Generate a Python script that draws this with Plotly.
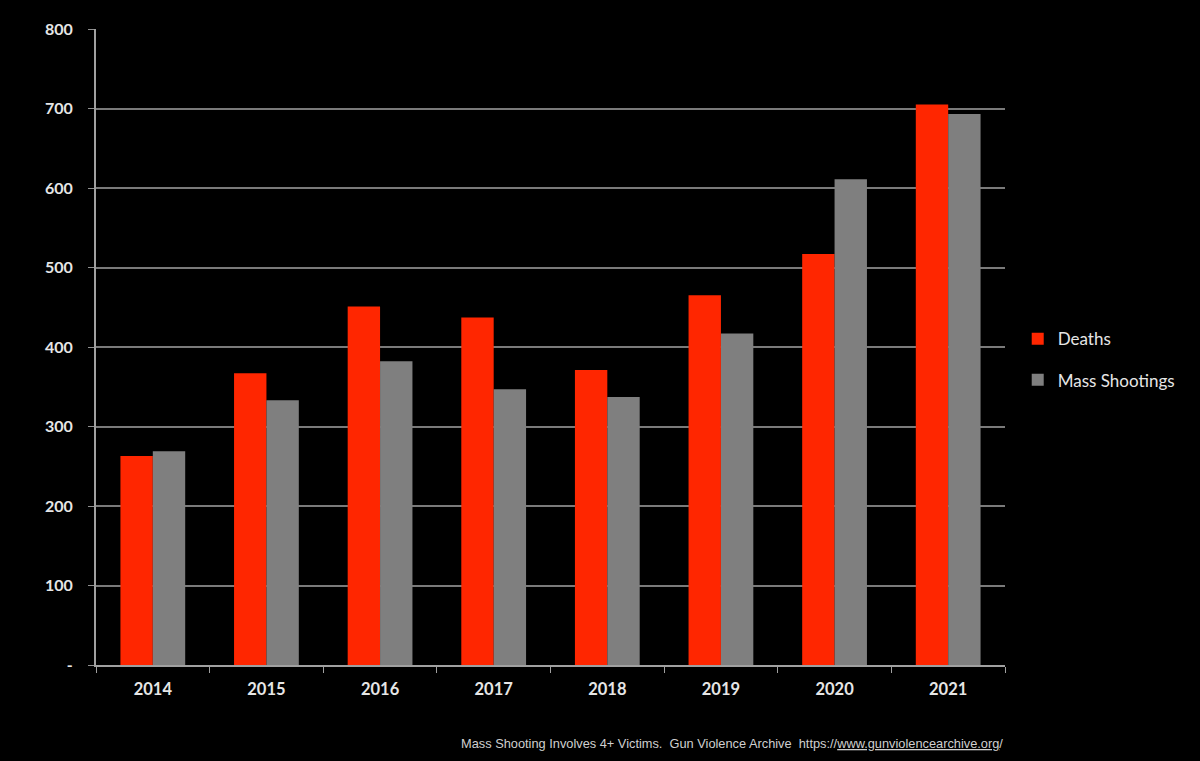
import plotly.graph_objects as go

years = ["2014", "2015", "2016", "2017", "2018", "2019", "2020", "2021"]
deaths = [263, 367, 451, 437, 371, 465, 517, 705]
mass_shootings = [269, 333, 382, 347, 337, 417, 611, 693]
y_tick_vals = [0, 100, 200, 300, 400, 500, 600, 700, 800]
y_tick_text = ["-", "100", "200", "300", "400", "500", "600", "700", "800"]

fig = go.Figure()
fig.add_trace(go.Bar(x=years, y=deaths, name="Deaths", legendgroup="d",
                     marker=dict(color="#FF2600", line=dict(width=0))))
fig.add_trace(go.Bar(x=years, y=mass_shootings, name="Mass Shootings", legendgroup="m",
                     marker=dict(color="#7F7F7F", line=dict(width=0))))

fig.update_layout(
    width=1200, height=761,
    paper_bgcolor="black", plot_bgcolor="black",
    margin=dict(l=96, r=195, t=29, b=96),
    barmode="group", bargap=0.43, bargroupgap=0,
    font=dict(family="Lato, Open Sans, sans-serif", color="#E6E6E6"),
    legend=dict(x=1.014, y=0.48, xanchor="left", yanchor="middle",
                font=dict(size=17, color="#E6E6E6"), itemwidth=30, tracegroupgap=16,
                bgcolor="rgba(0,0,0,0)"),
    showlegend=True,
    annotations=[dict(
        text="Mass Shooting Involves 4+ Victims.  Gun Violence Archive  https://<u>www.gunviolencearchive.org</u>/",
        xref="paper", yref="paper", x=1.0, y=-0.124, xanchor="right", yanchor="middle",
        showarrow=False, font=dict(family="Liberation Sans, Arial, sans-serif", size=12.8, color="#CFCFCF"))],
)
fig.update_xaxes(
    showline=True, linecolor="#A0A0A0", linewidth=2,
    ticks="outside", tickson="boundaries", ticklen=6, tickcolor="#A0A0A0",
    ticklabelstandoff=8,
    tickfont=dict(size=16.5, color="#E6E6E6", family="Lato, sans-serif", weight="bold"),
    showgrid=False,
)
fig.update_yaxes(
    range=[0, 800], tickvals=y_tick_vals, ticktext=y_tick_text,
    showline=True, linecolor="#A0A0A0", linewidth=2,
    ticks="outside", ticklen=6, tickcolor="#909090",
    ticklabelstandoff=12,
    tickfont=dict(size=16, color="#E6E6E6", family="Lato, sans-serif", weight="bold"),
    showgrid=True, gridcolor="#7A7A7A", gridwidth=2, zeroline=False,
)

fig.write_html("out.html", config={"displayModeBar": False},
               post_script="document.body.style.margin='0';document.body.style.background='black';")
